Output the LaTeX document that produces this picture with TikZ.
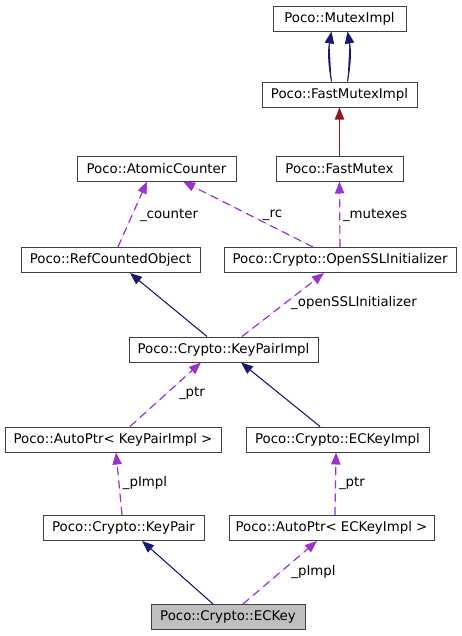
\documentclass[tikz,border=0pt]{standalone}
\usepackage{fontspec}
\setmainfont{DejaVu Sans}
\usetikzlibrary{arrows.meta}
\definecolor{dgnavy}{HTML}{191970}
\definecolor{dgorchid}{HTML}{9A32CD}
\definecolor{dgbrick}{HTML}{8B1A1A}
\definecolor{dgedge}{HTML}{404040}
\tikzset{
  dgbox/.style={draw=dgedge, line width=0.75pt, fill=white, font=\fontsize{10}{12}\selectfont,
    inner sep=0pt, minimum height=18.75pt},
  dgmain/.style={dgbox, fill=black!25},
  dglabel/.style={font=\fontsize{10}{12}\selectfont, inner sep=0pt},
  dgtip/.style={-{Triangle[length=9pt, width=7pt]}},
  dgpub/.style={dgtip, draw=dgnavy, fill=dgnavy, line width=0.8pt},
  dgpriv/.style={dgtip, draw=dgbrick, fill=dgbrick, line width=0.8pt},
  dguse/.style={dgtip, draw=dgorchid, fill=dgorchid, line width=0.9pt, dash pattern=on 6pt off 4pt}
}
\begin{document}
\begin{tikzpicture}[x=0.75pt, y=-0.75pt]
  \useasboundingbox (0,0) rectangle (461,636);
  \node[dgbox, minimum width=99.75pt] (mtx) at (339.5,18.5) {Poco::MutexImpl};
  \node[dgbox, minimum width=116.25pt] (fmi) at (339.5,94.5) {Poco::FastMutexImpl};
  \node[dgbox, minimum width=119.25pt] (ac) at (156.5,168.5) {Poco::AtomicCounter};
  \node[dgbox, minimum width=95.25pt] (fm) at (339.5,168.5) {Poco::FastMutex};
  \node[dgbox, minimum width=134.25pt] (rco) at (110.5,260) {Poco::RefCountedObject};
  \node[dgbox, minimum width=174pt] (ossl) at (340,260) {Poco::Crypto::OpenSSLInitializer};
  \node[dgbox, minimum width=141.75pt] (kpi) at (223.5,349.5) {Poco::Crypto::KeyPairImpl};
  \node[dgbox, minimum width=162pt] (apk) at (113,439.5) {Poco::AutoPtr< KeyPairImpl >};
  \node[dgbox, minimum width=137.25pt] (eki) at (337.5,439.5) {Poco::Crypto::ECKeyImpl};
  \node[dgbox, minimum width=120.75pt] (kp) at (123.5,528) {Poco::Crypto::KeyPair};
  \node[dgbox, minimum width=153.75pt] (ape) at (331.5,528) {Poco::AutoPtr< ECKeyImpl >};
  \node[dgmain, minimum width=115.5pt] (eck) at (228,617) {Poco::Crypto::ECKey};
  % member labels
  \node[dglabel] (lcounter) at (169,215) {\_counter};
  \node[dglabel] (lrc) at (272.5,215) {\_rc};
  \node[dglabel] (lmutexes) at (375,215) {\_mutexes};
  \node[dglabel] (lossl) at (354,303) {\_openSSLInitializer};
  \node[dglabel] (lptrkp) at (192,393) {\_ptr};
  \node[dglabel] (limplkp) at (145,483) {\_pImpl};
  \node[dglabel] (lptrec) at (352,483) {\_ptr};
  \node[dglabel] (limplec) at (313.5,572) {\_pImpl};
  % edges
  \draw[dgpub] ([xshift=-6pt]fmi.north) to[bend left=10] ([xshift=-6pt]mtx.south);
  \draw[dgpub] ([xshift=6pt]fmi.north) to[bend right=10] ([xshift=6pt]mtx.south);
  \draw[dgpriv] (fm.north) -- (fmi.south);
  \draw[dguse] ([xshift=5.6pt]rco.north) -- ([xshift=-7.1pt]ac.south);
  \draw[dguse] ([xshift=-20.25pt]ossl.north) -- ([xshift=19.9pt]ac.south);
  \draw[dguse] (ossl.north) -- (fm.south);
  \draw[dgpub] ([xshift=-12.4pt]kpi.north) -- ([xshift=14.6pt]rco.south);
  \draw[dguse] ([xshift=13.9pt]kpi.north) -- ([xshift=-12pt]ossl.south);
  \draw[dguse] ([xshift=12.75pt]apk.north) -- ([xshift=-16.9pt]kpi.south);
  \draw[dgpub] ([xshift=-13.1pt]eki.north) -- ([xshift=13.1pt]kpi.south);
  \draw[dguse] ([xshift=-1.1pt]kp.north) -- ([xshift=2.25pt]apk.south);
  \draw[dguse] ([xshift=2.6pt]ape.north) -- ([xshift=-1.1pt]eki.south);
  \draw[dgpub] ([xshift=-11.25pt]eck.north) -- ([xshift=13.9pt]kp.south);
  \draw[dguse] ([xshift=11.25pt]eck.north) -- ([xshift=-10.9pt]ape.south);
\end{tikzpicture}
\end{document}
